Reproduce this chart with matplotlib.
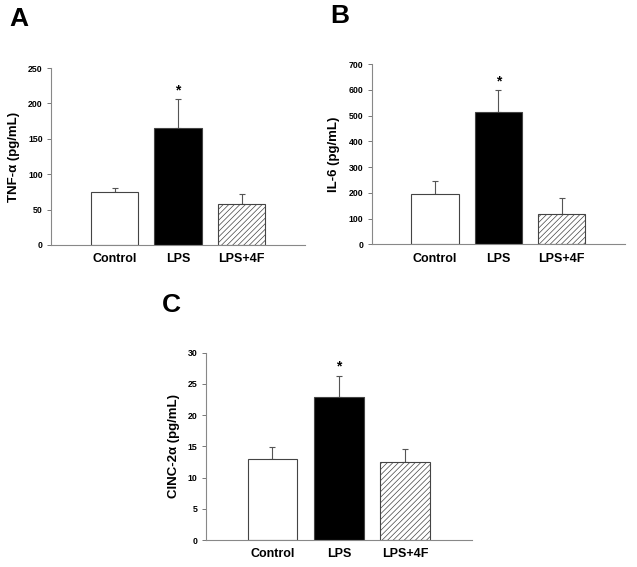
import matplotlib
matplotlib.use("Agg")
import matplotlib.pyplot as plt
import numpy as np

plt.rcParams['font.family'] = ['Liberation Sans', 'DejaVu Sans']
plt.rcParams['font.weight'] = 'bold'
plt.rcParams['hatch.linewidth'] = 0.5

groups = ['Control', 'LPS', 'LPS+4F']

# panel A: TNF-alpha
tnf_mean = [75, 165, 57.5]
tnf_sem = [5, 41, 14]

# panel B: IL-6
il6_mean = [194, 512, 116]
il6_sem = [52, 86, 64]

# panel C: CINC-2alpha
cinc_mean = [13.0, 22.9, 12.45]
cinc_sem = [1.9, 3.35, 2.2]

panels = [
    ('A', [0.080, 0.568, 0.399, 0.312], tnf_mean, tnf_sem, 250, 50, 'TNF-α (pg/mL)', (0.014, 0.966)),
    ('B', [0.5835, 0.569, 0.3975, 0.318], il6_mean, il6_sem, 700, 100, 'IL-6 (pg/mL)', (0.518, 0.972)),
    ('C', [0.3234, 0.0476, 0.4171, 0.3304], cinc_mean, cinc_sem, 30, 5, 'CINC-2α (pg/mL)', (0.254, 0.462)),
]

fig = plt.figure(figsize=(6.37, 5.67), dpi=100)

for letter, rect, means, sems, ymax, ystep, ylabel, lpos in panels:
    ax = fig.add_axes(rect)
    x = np.arange(1, 4)
    colors = ['white', 'black', 'white']
    hatches = ['', '', '//////']
    for xi, m, c, h in zip(x, means, colors, hatches):
        ax.bar(xi, m, width=0.75, color=c, edgecolor='#444444', linewidth=0.8,
               hatch=h, zorder=2)
    ax.errorbar(x, means, yerr=[[0, 0, 0], sems], fmt='none', ecolor='#555555',
                elinewidth=0.8, capsize=2.5, capthick=0.8, zorder=1)
    # significance star above LPS
    ax.text(2, means[1] + sems[1] + ymax * 0.012, '*', ha='center', va='bottom',
            fontsize=10, fontweight='bold')
    ax.set_xlim(0, 4)
    ax.set_ylim(0, ymax)
    ax.set_yticks(np.arange(0, ymax + 1, ystep))
    ax.set_xticks(x)
    ax.set_xticklabels(groups, fontsize=9, fontweight='bold')
    ax.tick_params(axis='x', length=0, pad=6)
    ax.tick_params(axis='y', labelsize=6.3, length=3, width=0.7, color='#777777', pad=3)
    for t in ax.get_yticklabels():
        t.set_fontweight('bold')
    ax.set_ylabel(ylabel, fontsize=9.5, fontweight='bold', labelpad=6)
    for s in ['top', 'right']:
        ax.spines[s].set_visible(False)
    for s in ['left', 'bottom']:
        ax.spines[s].set_color('#888888')
        ax.spines[s].set_linewidth(0.8)
    fig.text(lpos[0], lpos[1], letter, fontsize=19, fontweight='bold',
             ha='left', va='center')

fig.savefig('out.png', dpi=100)
